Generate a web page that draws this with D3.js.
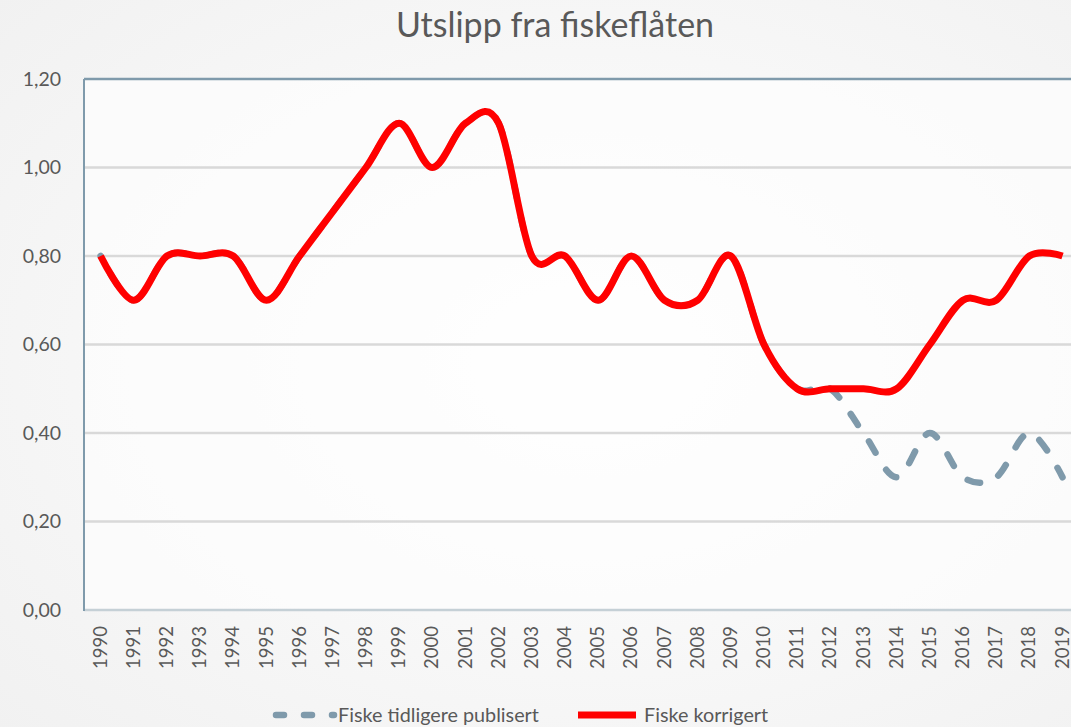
<!DOCTYPE html>
<html>
<head>
<meta charset="utf-8">
<script src="https://cdn.jsdelivr.net/npm/d3@7"></script>
<style>
  html, body { margin: 0; padding: 0; }
  body { width: 1071px; height: 727px; overflow: hidden; }
  text { font-family: Lato, "Open Sans", sans-serif; fill: #595959; }
</style>
</head>
<body>
<div id="chart"></div>
<script>
// Données
const years = d3.range(1990, 2020).map(String);
const korrigert = [0.80, 0.70, 0.80, 0.80, 0.80, 0.70, 0.80, 0.90, 1.00, 1.10,
                   1.00, 1.10, 1.10, 0.80, 0.80, 0.70, 0.80, 0.70, 0.70, 0.80,
                   0.60, 0.50, 0.50, 0.50, 0.50, 0.60, 0.70, 0.70, 0.80, 0.80];
const publisert = [0.80, 0.70, 0.80, 0.80, 0.80, 0.70, 0.80, 0.90, 1.00, 1.10,
                   1.00, 1.10, 1.10, 0.80, 0.80, 0.70, 0.80, 0.70, 0.70, 0.80,
                   0.60, 0.50, 0.50, 0.40, 0.30, 0.40, 0.30, 0.30, 0.40, 0.30];
const yTicks = [0, 0.2, 0.4, 0.6, 0.8, 1.0, 1.2];

const width = 1071, height = 727;
const plot = { left: 84, top: 79, bottom: 610, band: 33.17 };

const svg = d3.select("#chart").append("svg")
  .attr("width", width).attr("height", height);

// Fond dégradé
const defs = svg.append("defs");
const grad = defs.append("radialGradient").attr("id", "bg")
  .attr("cx", "55%").attr("cy", "50%").attr("r", "75%");
grad.append("stop").attr("offset", "0%").attr("stop-color", "#ffffff");
grad.append("stop").attr("offset", "100%").attr("stop-color", "#f1f1f1");
svg.append("rect").attr("width", width).attr("height", height).attr("fill", "url(#bg)");

// Échelles
const x = d3.scaleBand().domain(years)
  .range([plot.left, plot.left + plot.band * years.length]);
const cx = (d) => x(d) + x.bandwidth() / 2;
const y = d3.scaleLinear().domain([0, 1.2]).range([plot.bottom, plot.top]);

const fmt = d3.formatLocale({ decimal: ",", thousands: " ", grouping: [3], currency: ["", ""] }).format(".2f");

// Zone de tracé
svg.append("rect")
  .attr("x", plot.left).attr("y", plot.top)
  .attr("width", width - plot.left).attr("height", plot.bottom - plot.top)
  .attr("fill", "#fdfdfd").attr("opacity", 0.7);

// Grille
svg.append("g").selectAll("line")
  .data(yTicks.filter((d) => d > 0 && d < 1.2))
  .enter().append("line")
  .attr("x1", plot.left).attr("x2", width)
  .attr("y1", (d) => y(d)).attr("y2", (d) => y(d))
  .attr("stroke", "#d9d9d9").attr("stroke-width", 2.5);

// Bordures
svg.append("line").attr("x1", plot.left).attr("x2", width)
  .attr("y1", y(1.2)).attr("y2", y(1.2))
  .attr("stroke", "#7f9aab").attr("stroke-width", 2.5);
svg.append("line").attr("x1", plot.left).attr("x2", width)
  .attr("y1", y(0)).attr("y2", y(0))
  .attr("stroke", "#c5d0d6").attr("stroke-width", 2.5);
svg.append("line").attr("x1", plot.left).attr("x2", plot.left)
  .attr("y1", y(1.2)).attr("y2", y(0) + 1)
  .attr("stroke", "#7f9aab").attr("stroke-width", 2);

// Axe Y
const yAxis = svg.append("g")
  .attr("transform", `translate(${plot.left - 23},0)`)
  .call(d3.axisLeft(y).tickValues(yTicks).tickFormat(fmt).tickSize(0).tickPadding(0));
yAxis.select(".domain").remove();
yAxis.selectAll("text")
  .style("font-size", "19.5px").attr("fill", "#595959");

// Axe X
const xAxis = svg.append("g")
  .attr("transform", `translate(0,${plot.bottom})`)
  .call(d3.axisBottom(x).tickSize(0).tickPadding(0));
xAxis.select(".domain").remove();
xAxis.selectAll("text")
  .style("font-size", "18.5px").attr("fill", "#595959")
  .style("text-anchor", "end")
  .attr("transform", "rotate(-90)")
  .attr("x", -16).attr("y", 0).attr("dy", "0.33em");

// Lignes
const line = (vals) => d3.line()
  .x((d, i) => cx(years[i]))
  .y((d) => y(d))
  .curve(d3.curveCatmullRom.alpha(0))(vals);

const dash = 13, gap = 20;
const grey = svg.append("path")
  .attr("d", line(publisert))
  .attr("fill", "none").attr("stroke", "#7f9aab")
  .attr("stroke-width", 6.5).attr("stroke-linecap", "round")
  .attr("stroke-dasharray", `${dash},${gap}`);
// un tiret se termine au dernier point
const L = grey.node().getTotalLength();
const period = dash + gap;
grey.attr("stroke-dashoffset", ((period - ((L - dash) % period)) % period));

svg.append("path")
  .attr("d", line(korrigert))
  .attr("fill", "none").attr("stroke", "#ff0000")
  .attr("stroke-width", 7).attr("stroke-linejoin", "round");

// Titre
svg.append("text")
  .attr("x", 555).attr("y", 37)
  .attr("text-anchor", "middle")
  .style("font-size", "34px")
  .text("Utslipp fra fiskeflåten");

// Légende
const leg = svg.append("g");
leg.append("line").attr("x1", 276).attr("x2", 334).attr("y1", 715).attr("y2", 715)
  .attr("stroke", "#7f9aab").attr("stroke-width", 6.5)
  .attr("stroke-linecap", "round").attr("stroke-dasharray", "8,20");
leg.append("text").attr("x", 338).attr("y", 715).attr("dy", "0.35em")
  .style("font-size", "19.8px").text("Fiske tidligere publisert");
leg.append("line").attr("x1", 578).attr("x2", 636).attr("y1", 715).attr("y2", 715)
  .attr("stroke", "#ff0000").attr("stroke-width", 7);
leg.append("text").attr("x", 644).attr("y", 715).attr("dy", "0.35em")
  .style("font-size", "19.8px").text("Fiske korrigert");
</script>
</body>
</html>
